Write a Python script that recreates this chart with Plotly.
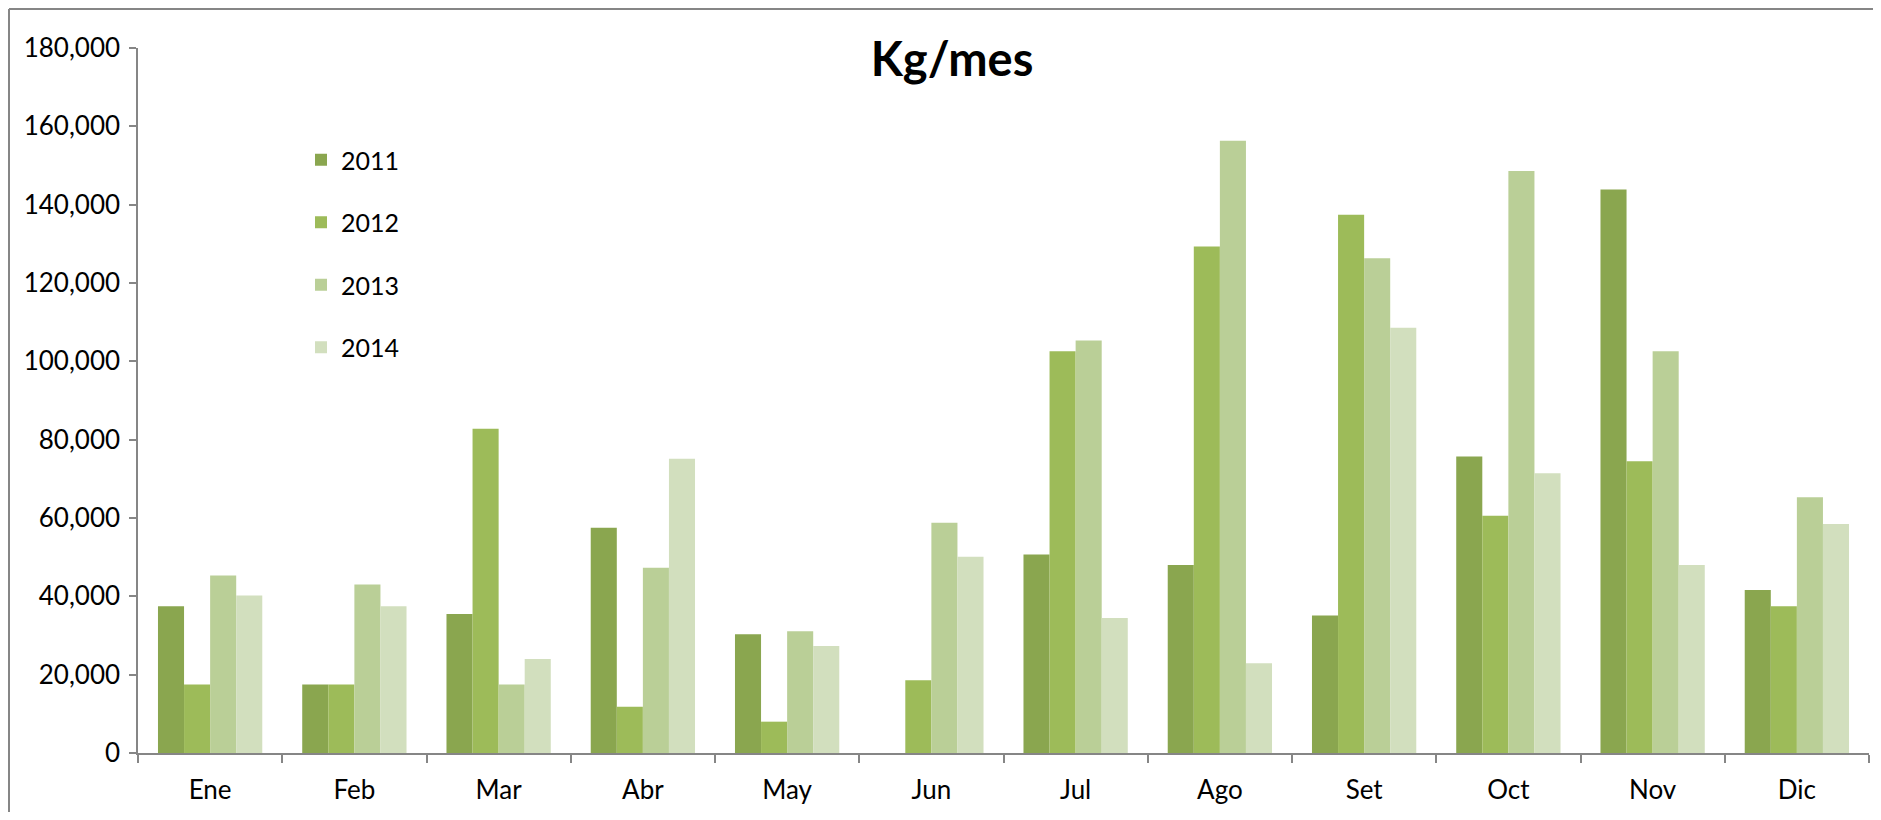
import plotly.graph_objects as go

months = ["Ene", "Feb", "Mar", "Abr", "May", "Jun", "Jul", "Ago", "Set", "Oct", "Nov", "Dic"]
years = ["2011", "2012", "2013", "2014"]
y2011 = [37500, 17500, 35500, 57500, 30300, None, 50700, 48000, 35100, 75700, 143900, 41600]
y2012 = [17500, 17500, 82800, 11800, 8000, 18600, 102600, 129300, 137400, 60600, 74500, 37500]
y2013 = [45300, 43000, 17500, 47300, 31100, 58800, 105300, 156300, 126300, 148600, 102600, 65300]
y2014 = [40200, 37500, 24000, 75100, 27300, 50100, 34500, 22900, 108600, 71400, 48000, 58500]
colors = ["#8AA64F", "#9DBB59", "#BACF97", "#D2DFBE"]
series = [y2011, y2012, y2013, y2014]

FONT = "Lato, 'Open Sans', 'Liberation Sans', sans-serif"

fig = go.Figure()
for name, vals, col in zip(years, series, colors):
    fig.add_trace(go.Bar(x=months, y=vals, name=name, legendgroup=name,
                         marker=dict(color=col, line=dict(width=0))))

# page has an 8px body margin; figure coordinates = page coordinates - 8
OFF = 8
W, H = 1881 - 2 * OFF, 820 - 2 * OFF
L, T = 130, 40
R = W - 1861
B = H - 745
pw = W - L - R
ph = H - T - B

fig.update_layout(
    width=W, height=H,
    margin=dict(l=L, r=R, t=T, b=B),
    paper_bgcolor="white", plot_bgcolor="white",
    barmode="group", bargap=0.277, bargroupgap=0,
    font=dict(family=FONT, color="black", size=26),
    title=dict(text="<b>Kg/mes</b>", x=(944 - L) / pw, xref="paper", xanchor="center",
               y=1 - 52 / H, yref="container", yanchor="middle",
               font=dict(size=47, family=FONT, color="black")),
    showlegend=True,
    legend=dict(x=(293 - L) / pw, y=(H - B - 129) / ph, xanchor="left", yanchor="top",
                bgcolor="rgba(0,0,0,0)", font=dict(size=25, family=FONT, color="black"),
                tracegroupgap=27, traceorder="grouped"),
    xaxis=dict(showline=True, linecolor="#868686", linewidth=1.5, ticks="outside",
               tickson="boundaries", ticklen=8, tickcolor="#868686", tickwidth=1.5,
               showgrid=False, tickfont=dict(size=26), ticklabelstandoff=13),
    yaxis=dict(range=[0, 180000], dtick=20000, tickformat=",d", showline=True,
               linecolor="#868686", linewidth=1.5, ticks="outside", ticklen=7,
               tickcolor="#868686", tickwidth=1.5, showgrid=False, zeroline=False,
               tickfont=dict(size=26), ticklabelstandoff=4),
)

# outer chart frame (left and top edges visible in the reference)
fig.add_shape(type="line", xref="paper", yref="paper",
              x0=(1 - L) / pw, x1=(1 - L) / pw, y0=-(B + 30) / ph, y1=(H - B - 1) / ph,
              line=dict(color="#868686", width=2))
fig.add_shape(type="line", xref="paper", yref="paper",
              x0=(1 - L) / pw, x1=(W - L) / pw, y0=(H - B - 1) / ph, y1=(H - B - 1) / ph,
              line=dict(color="#868686", width=2))

fig.write_html("out.html")
